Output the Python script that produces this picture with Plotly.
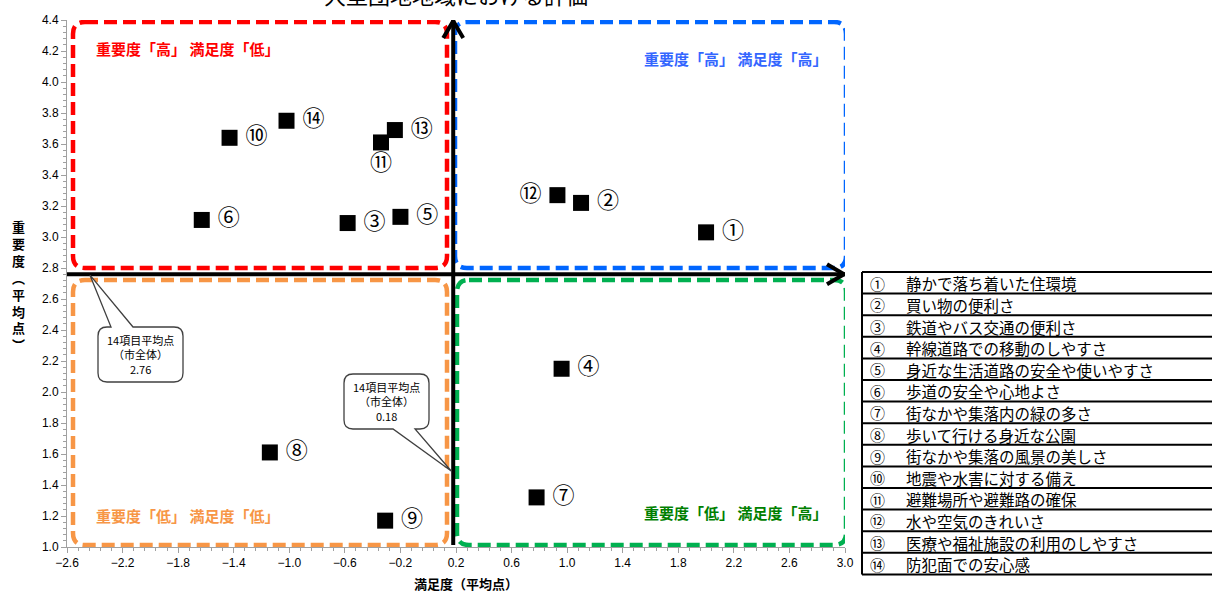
import plotly.graph_objects as go

# data
item_no = ["①", "②", "③", "④", "⑤", "⑥", "⑦", "⑧", "⑨", "⑩", "⑪", "⑫", "⑬", "⑭"]
item_name = [
    "静かで落ち着いた住環境",
    "買い物の便利さ",
    "鉄道やバス交通の便利さ",
    "幹線道路での移動のしやすさ",
    "身近な生活道路の安全や使いやすさ",
    "歩道の安全や心地よさ",
    "街なかや集落内の緑の多さ",
    "歩いて行ける身近な公園",
    "街なかや集落の風景の美しさ",
    "地震や水害に対する備え",
    "避難場所や避難路の確保",
    "水や空気のきれいさ",
    "医療や福祉施設の利用のしやすさ",
    "防犯面での安心感",
]
satisfaction = [2.00, 1.10, -0.58, 0.96, -0.20, -1.63, 0.78, -1.14, -0.31, -1.43, -0.34, 0.93, -0.24, -1.02]
importance = [3.03, 3.22, 3.09, 2.15, 3.13, 3.11, 1.32, 1.61, 1.17, 3.64, 3.61, 3.27, 3.69, 3.75]
label_pos = ["middle right"] * 14
label_pos[10] = "bottom center"
label_pos[11] = "middle left"

avg_satisfaction = 0.18
avg_importance = 2.76

x_ticks = [-2.6, -2.2, -1.8, -1.4, -1.0, -0.6, -0.2, 0.2, 0.6, 1.0, 1.4, 1.8, 2.2, 2.6, 3.0]
y_ticks = [1.0, 1.2, 1.4, 1.6, 1.8, 2.0, 2.2, 2.4, 2.6, 2.8, 3.0, 3.2, 3.4, 3.6, 3.8, 4.0, 4.2, 4.4]
x_range = [-2.6, 3.0]
y_range = [1.0, 4.4]

title_text = "大型団地地域における評価"
quad_labels = ["重要度「高」 満足度「低」", "重要度「高」 満足度「高」",
               "重要度「低」 満足度「低」", "重要度「低」 満足度「高」"]
callout_text = "14項目平均点<br>（市全体）<br>"

JP = "Noto Sans CJK JP"
W, H = 1212, 592
ML, MR, MT, MB = 67, 367, 20, 45
PW = W - ML - MR
PH = H - MT - MB


# pixel -> data / paper helpers for the decorations
def dx(px):
    return x_range[0] + (px - ML) / PW * (x_range[1] - x_range[0])


def dy(py):
    return y_range[1] - (py - MT) / PH * (y_range[1] - y_range[0])


def xp(px):
    return (px - ML) / PW


def yp(py):
    return (H - MB - py) / PH


def px_of_x(x):
    return ML + (x - x_range[0]) / (x_range[1] - x_range[0]) * PW


def py_of_y(y):
    return MT + (y_range[1] - y) / (y_range[1] - y_range[0]) * PH


def P(px, py):
    return f"{dx(px):.5f},{dy(py):.5f}"


def rrect(x0, y0, x1, y1, r, notch_top=None, notch_bottom=None):
    s = f"M{P(x0 + r, y0)}"
    if notch_top:
        a, b, tip = notch_top
        s += f" L{P(a, y0)} L{P(*tip)} L{P(b, y0)}"
    s += f" L{P(x1 - r, y0)} Q{P(x1, y0)} {P(x1, y0 + r)}"
    s += f" L{P(x1, y1 - r)} Q{P(x1, y1)} {P(x1 - r, y1)}"
    if notch_bottom:
        a, b, tip = notch_bottom
        s += f" L{P(b, y1)} L{P(*tip)} L{P(a, y1)}"
    s += f" L{P(x0 + r, y1)} Q{P(x0, y1)} {P(x0, y1 - r)}"
    s += f" L{P(x0, y0 + r)} Q{P(x0, y0)} {P(x0 + r, y0)} Z"
    return s


fig = go.Figure()

shapes = []
# quadrant boxes
quad_boxes = [
    ((73, 22, 447, 268), "#FF0000"),
    ((455, 22, 846, 268), "#0066FF"),
    ((73, 280, 447, 545), "#F79646"),
    ((457, 280, 846, 545), "#00B050"),
]
for (x0, y0, x1, y1), col in quad_boxes:
    shapes.append(dict(type="path", xref="x", yref="y", path=rrect(x0, y0, x1, y1, 12),
                       line=dict(color=col, width=4.5, dash="13px,6px"), layer="below"))

# average lines with open arrow heads
vx = px_of_x(avg_satisfaction)
hy = py_of_y(avg_importance)
shapes.append(dict(type="line", xref="x", yref="y", x0=avg_satisfaction, x1=avg_satisfaction,
                   y0=dy(545), y1=y_range[1], line=dict(color="black", width=4)))
shapes.append(dict(type="line", xref="x", yref="y", x0=x_range[0], x1=x_range[1],
                   y0=avg_importance, y1=avg_importance, line=dict(color="black", width=4)))
shapes.append(dict(type="path", xref="x", yref="y",
                   path=f"M{P(vx - 10, MT + 18)} L{P(vx, MT + 1)} L{P(vx + 10, MT + 18)}",
                   line=dict(color="black", width=4)))
shapes.append(dict(type="path", xref="x", yref="y",
                   path=f"M{P(ML + PW - 18, hy - 10)} L{P(ML + PW - 1, hy)} L{P(ML + PW - 18, hy + 10)}",
                   line=dict(color="black", width=4)))

# callouts
shapes.append(dict(type="path", xref="x", yref="y", fillcolor="white",
                   path=rrect(98, 327, 183, 382, 9, notch_top=(111, 133, (90, hy + 1))),
                   line=dict(color="#404040", width=1.3)))
shapes.append(dict(type="path", xref="x", yref="y", fillcolor="white",
                   path=rrect(344, 374, 429, 429, 9, notch_bottom=(393, 415, (vx - 2, 471))),
                   line=dict(color="#404040", width=1.3)))

# item table on the right
row_h = 21.6
t_top = 272
for k in range(len(item_name) + 1):
    yy = t_top + k * row_h
    shapes.append(dict(type="line", xref="paper", yref="paper", x0=xp(862), x1=xp(1214),
                       y0=yp(yy), y1=yp(yy), line=dict(color="black", width=2)))
shapes.append(dict(type="line", xref="paper", yref="paper", x0=xp(862), x1=xp(862),
                   y0=yp(t_top), y1=yp(t_top + len(item_name) * row_h), line=dict(color="black", width=2)))

fig.add_trace(go.Scatter(
    x=satisfaction, y=importance, mode="markers+text",
    marker=dict(symbol="square", size=16, color="black"),
    text=[" " + n if p == "middle right" else (n + " " if p == "middle left" else n)
          for n, p in zip(item_no, label_pos)],
    textposition=label_pos,
    textfont=dict(family=JP, size=22, color="black"),
    hoverinfo="skip", showlegend=False,
))

ann = []
ann.append(dict(text=title_text, xref="paper", yref="paper", x=xp(456), y=yp(12), xanchor="center",
                yanchor="bottom", showarrow=False, font=dict(family=JP, size=22, color="black")))
q_pos = [(94, 48, "left"), (829, 58, "right"), (94, 515, "left"), (829, 512, "right")]
q_col = ["#FF0000", "#3366FF", "#F79646", "#008000"]
for t, (qx, qy, anc), col in zip(quad_labels, q_pos, q_col):
    ann.append(dict(text=f"<b>{t}</b>", xref="x", yref="y", x=dx(qx), y=dy(qy), xanchor=anc,
                    yanchor="middle", showarrow=False, font=dict(family=JP, size=15, color=col)))
ann.append(dict(text=callout_text + f"{avg_importance:.2f}", xref="x", yref="y", x=dx(140.5), y=dy(354.5),
                showarrow=False, font=dict(family=JP, size=11, color="black"), align="center"))
ann.append(dict(text=callout_text + f"{avg_satisfaction:.2f}", xref="x", yref="y", x=dx(386.5), y=dy(401.5),
                showarrow=False, font=dict(family=JP, size=11, color="black"), align="center"))
# axis titles
ann.append(dict(text="<b>重<br>要<br>度<br>︵<br>平<br>均<br>点<br>︶</b>", xref="paper", yref="paper",
                x=xp(18), y=yp(285), xanchor="center", yanchor="middle", showarrow=False,
                font=dict(family=JP, size=13, color="black"), align="center"))
ann.append(dict(text="<b>満足度（平均点）</b>", xref="paper", yref="paper", x=xp(466), y=yp(583),
                xanchor="center", yanchor="middle", showarrow=False,
                font=dict(family=JP, size=13, color="black")))
# table text
for k, (n, name) in enumerate(zip(item_no, item_name)):
    yc = t_top + (k + 0.5) * row_h + 0.5
    ann.append(dict(text=n, xref="paper", yref="paper", x=xp(877), y=yp(yc), xanchor="center",
                    yanchor="middle", showarrow=False, font=dict(family=JP, size=15, color="black")))
    ann.append(dict(text=name, xref="paper", yref="paper", x=xp(904), y=yp(yc), xanchor="left",
                    yanchor="middle", showarrow=False, font=dict(family=JP, size=15.5, color="black")))

fig.update_layout(
    width=W, height=H,
    margin=dict(l=ML, r=MR, t=MT, b=MB),
    paper_bgcolor="white", plot_bgcolor="white",
    shapes=shapes, annotations=ann,
    xaxis=dict(range=x_range, tickvals=x_ticks, tickformat=".1f", showgrid=False, zeroline=False,
               showline=True, linecolor="#A0A0A0", linewidth=1, ticks="outside", ticklen=5,
               tickcolor="#A0A0A0", tickfont=dict(family="Liberation Sans", size=12, color="black"),
               minor=dict(dtick=0.08, tick0=-2.6, ticks="outside", ticklen=3, tickcolor="#A0A0A0")),
    yaxis=dict(range=y_range, tickvals=y_ticks, tickformat=".1f", showgrid=False, zeroline=False,
               showline=True, linecolor="#A0A0A0", linewidth=1, ticks="outside", ticklen=5,
               tickcolor="#A0A0A0", tickfont=dict(family="Liberation Sans", size=12, color="black"),
               minor=dict(dtick=0.04, tick0=1.0, ticks="outside", ticklen=3, tickcolor="#A0A0A0")),
)

fig.write_html("out.html", config={"displayModeBar": False},
               post_script="document.body.style.margin='0';document.body.style.overflow='hidden';")
